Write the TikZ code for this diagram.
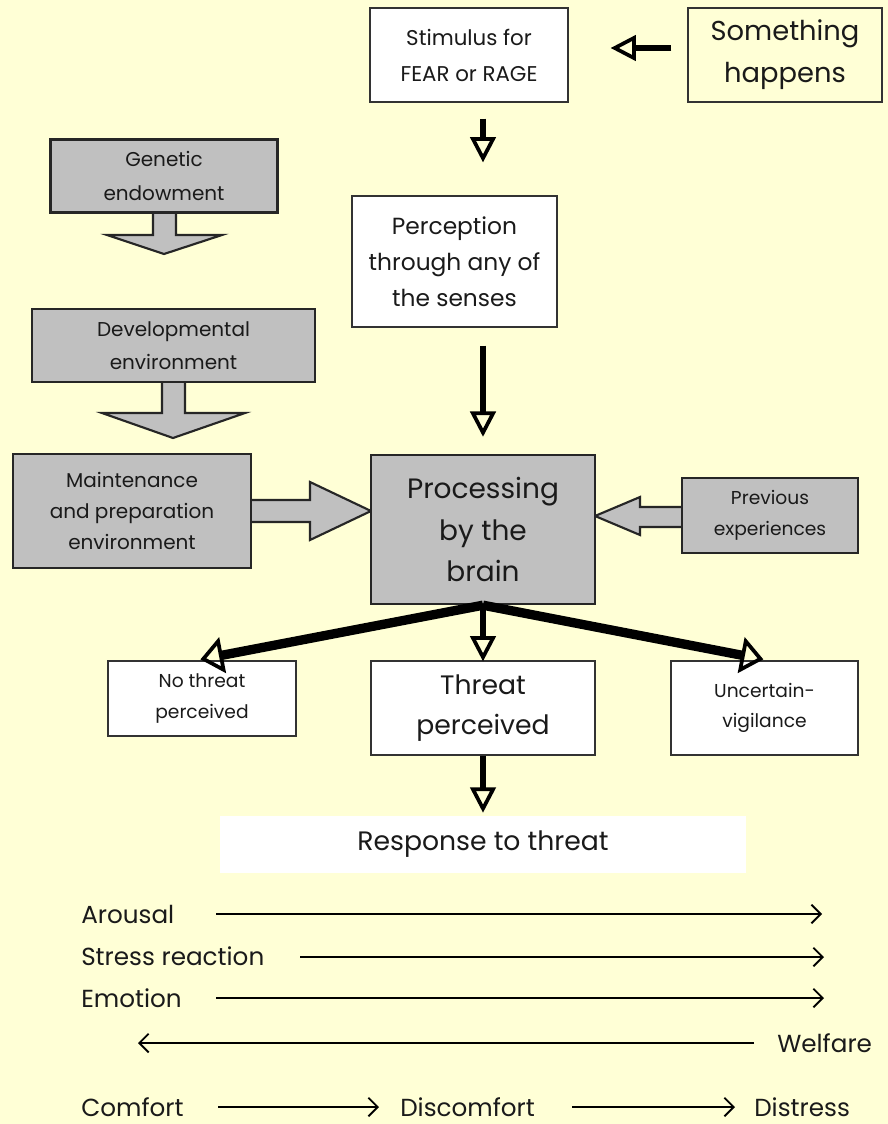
\documentclass[tikz,border=0pt]{standalone}
\usepackage{fontspec}
\setmainfont{Poppins}
\usetikzlibrary{arrows.meta,calc}
\definecolor{bg}{HTML}{FFFFD6}
\definecolor{boxgray}{HTML}{C0C0C0}
\definecolor{ink}{HTML}{1A1A1A}
\begin{document}
\begin{tikzpicture}[x=0.75pt,y=-0.75pt,
  every node/.style={text=ink},
  wbox/.style={draw=black!80, fill=white, line width=0.9pt, align=center, inner sep=0pt},
  obox/.style={draw=black!80, line width=0.9pt, align=center, inner sep=0pt},
  gbox/.style={draw=black!85, fill=boxgray, line width=1.8pt, align=center, inner sep=0pt},
  thickarr/.style={line width=4.5pt, -{Triangle[open, length=19pt, width=19pt, line width=2.8pt]}},
  diagarr/.style={line width=7pt, -{Triangle[open, length=17pt, width=27pt, line width=2.8pt]}},
  barr/.style={line width=1.4pt, -{Straight Barb[length=7pt, width=14pt, line width=1.4pt]}},
  blockarr/.style={draw=black!85, fill=boxgray, line width=1.6pt, line join=miter},
  lbl/.style={anchor=base west, inner sep=0pt, font={\fontsize{18.5}{22}\selectfont}}
]
\useasboundingbox[fill=bg] (0,0) rectangle (888,1124);

% block arrows (shapes)
\draw[blockarr] (153,210) -- (153,235) -- (107,235) -- (164,254) -- (222,235) -- (176,235) -- (176,210);
\draw[blockarr] (162,379) -- (162,413) -- (102,413) -- (173,438) -- (245,413) -- (185,413) -- (185,379);
\draw[blockarr] (248,500) -- (310,500) -- (310,482) -- (371,511) -- (310,540) -- (310,522) -- (248,522);
\draw[blockarr] (685,507) -- (640,507) -- (640,497) -- (595,516) -- (640,535) -- (640,527) -- (685,527);

% boxes
\node[wbox, minimum width=148.5pt, minimum height=70.5pt, font={\fontsize{16}{27}\selectfont}] (stim) at (469,55) {Stimulus for\\FEAR or RAGE};
\node[obox, minimum width=145.5pt, minimum height=70.5pt, font={\fontsize{20.5}{31.5}\selectfont}] (some) at (785,55) {Something\\happens};
\node[wbox, minimum width=153.75pt, minimum height=98.25pt, font={\fontsize{17.5}{27}\selectfont}] (perc) at (454.5,261.5) {Perception\\through any of\\the senses};
\node[gbox, minimum width=170.25pt, minimum height=54.75pt, font={\fontsize{15}{25}\selectfont}] (gen) at (164,176) {Genetic\\endowment};
\node[gbox, minimum width=212.25pt, minimum height=54.75pt, font={\fontsize{15}{25}\selectfont}] (dev) at (173.5,345.5) {Developmental\\environment};
\node[gbox, minimum width=178.5pt, minimum height=85.5pt, font={\fontsize{15}{23.5}\selectfont}] (maint) at (132,511) {Maintenance\\and preparation\\environment};
\node[gbox, minimum width=168pt, minimum height=111.75pt, font={\fontsize{21}{31}\selectfont}] (proc) at (483,529.5) {Processing\\by the\\brain};
\node[gbox, minimum width=132pt, minimum height=56.25pt, font={\fontsize{14}{23}\selectfont}] (prev) at (770,515.5) {Previous\\experiences};
\node[wbox, minimum width=141pt, minimum height=56.25pt, font={\fontsize{14}{23}\selectfont}] (nothr) at (202,698.5) {No threat\\perceived};
\node[wbox, minimum width=168pt, minimum height=70.5pt, font={\fontsize{20}{30}\selectfont}] (thr) at (483,708) {Threat\\perceived};
\node[wbox, minimum width=140.25pt, minimum height=70.5pt, font={\fontsize{14}{23}\selectfont}] (unc) at (764.5,708) {Uncertain-\\vigilance};
\node[fill=white, minimum width=394.5pt, minimum height=42.75pt, inner sep=0pt, font={\fontsize{20}{24}\selectfont}] (resp) at (483,844.5) {Response to threat};

% thick connectors
\draw[thickarr] ($(some.west)+(-16,-7)$) -- ($(stim.east)+(42,-7)$);
\draw[thickarr] ($(stim.south -| proc.north)+(0,16)$) -- ($(perc.north -| proc.north)+(0,-33)$);
\draw[thickarr] ($(perc.south -| proc.north)+(0,18)$) -- ($(proc.north)+(0,-17)$);
\draw[thickarr] (proc.south) -- ($(thr.north)+(0,1)$);
\draw[diagarr] (proc.south) -- ($(nothr.north west)+(93,-1)$);
\draw[diagarr] (proc.south) -- ($(unc.north west)+(93,-1)$);
\draw[thickarr] (thr.south) -- ($(resp.north)+(0,-3)$);

% scales
\node[lbl] (arousal) at (81,923) {Arousal};
\node[lbl] (stress) at (81,965) {Stress reaction};
\node[lbl] (emotion) at (81,1007) {Emotion};
\node[lbl] (welfare) at (777,1052) {Welfare};
\node[lbl] (comfort) at (81,1116) {Comfort};
\node[lbl] (discomfort) at (400,1116) {Discomfort};
\node[lbl] (distress) at (754,1116) {Distress};

\coordinate (arS) at (216,914);  \coordinate (arE) at (822,914);
\coordinate (stS) at (300,957);  \coordinate (stE) at (824,957);
\coordinate (emS) at (216,998);  \coordinate (emE) at (824,998);
\coordinate (weS) at (754,1043); \coordinate (weE) at (138,1043);
\coordinate (c1S) at (218,1107); \coordinate (c1E) at (379,1107);
\coordinate (c2S) at (572,1107); \coordinate (c2E) at (735,1107);
\draw[barr] (arS) -- (arE);
\draw[barr] (stS) -- (stE);
\draw[barr] (emS) -- (emE);
\draw[barr] (weS) -- (weE);
\draw[barr] (c1S) -- (c1E);
\draw[barr] (c2S) -- (c2E);
\end{tikzpicture}
\end{document}
